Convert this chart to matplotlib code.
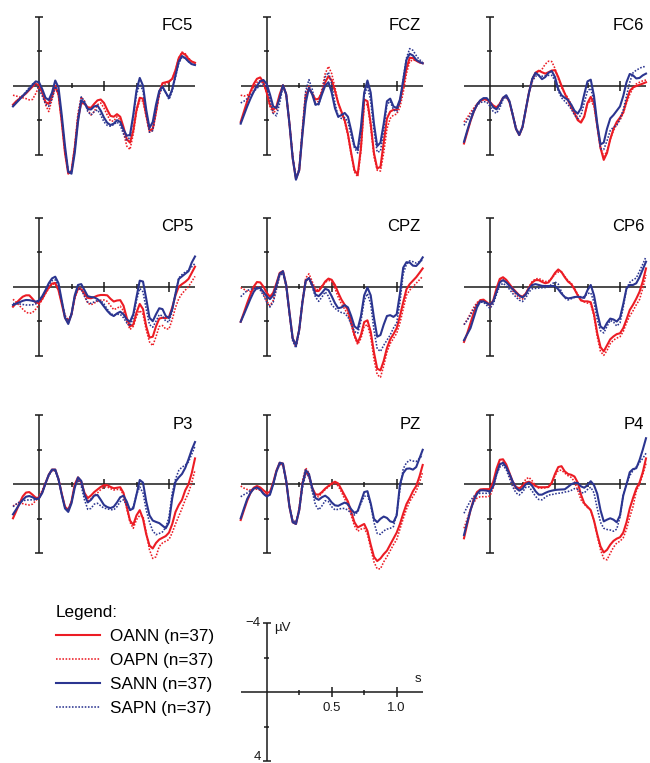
import numpy as np
import matplotlib
matplotlib.use("Agg")
import matplotlib.pyplot as plt
from matplotlib.lines import Line2D

plt.rcParams["font.family"] = ["Liberation Sans", "DejaVu Sans"]

# =============================================================================
# DATA -- grand-average ERPs in µV, one value every 25 ms from -0.2 to 1.2 s
# (negative is plotted up)
# =============================================================================
TIME = np.round(np.arange(57) * 0.025 - 0.2, 3)

FC5_OANN = [1.1, 0.9, 0.75, 0.6, 0.45, 0.25, 0.05, -0.1, -0.05, 0.4, 0.95, 1.05, 0.6, 0.0, 0.5, 2.1, 3.9, 5.1, 4.95, 3.6, 1.9, 1.0, 1.05, 1.25, 1.28, 1.05, 0.85, 0.8, 1.0, 1.4, 1.75, 1.8, 1.65, 1.8, 2.4, 3.1, 3.3, 2.6, 1.4, 0.7, 0.75, 1.7, 2.6, 2.5, 1.5, 0.4, -0.15, -0.2, -0.25, -0.4, -0.9, -1.6, -1.9, -1.8, -1.55, -1.4, -1.33]
FC5_OAPN = [0.55, 0.6, 0.65, 0.7, 0.75, 0.82, 0.8, 0.45, 0.05, 0.35, 1.1, 1.5, 0.8, 0.12, 0.55, 2.1, 3.9, 5.05, 4.95, 3.5, 1.6, 0.65, 0.9, 1.4, 1.7, 1.5, 1.1, 1.0, 1.3, 1.7, 2.05, 2.05, 1.8, 2.0, 2.7, 3.5, 3.7, 2.8, 1.5, 0.85, 0.9, 1.8, 2.7, 2.6, 1.6, 0.5, -0.1, -0.1, -0.2, -0.4, -0.9, -1.6, -1.95, -1.85, -1.6, -1.4, -1.3]
FC5_SANN = [1.2, 1.0, 0.8, 0.6, 0.4, 0.2, -0.05, -0.25, -0.2, 0.2, 0.7, 0.83, 0.4, -0.3, 0.1, 1.7, 3.5, 5.0, 5.1, 3.9, 2.1, 0.85, 1.0, 1.35, 1.38, 1.2, 1.15, 1.45, 1.85, 2.15, 2.28, 2.2, 2.0, 2.1, 2.55, 2.9, 2.85, 1.7, 0.27, -0.45, 0.0, 1.4, 2.45, 2.1, 1.1, 0.3, 0.05, 0.4, 0.7, 0.2, -0.6, -1.4, -1.72, -1.6, -1.4, -1.25, -1.2]
FC5_SAPN = [1.15, 0.95, 0.75, 0.55, 0.35, 0.1, -0.1, -0.05, 0.2, 0.6, 1.05, 1.2, 0.75, 0.05, 0.4, 1.9, 3.7, 4.95, 5.0, 3.7, 1.8, 0.65, 0.9, 1.5, 1.7, 1.5, 1.4, 1.7, 2.1, 2.3, 2.35, 2.25, 2.1, 2.3, 2.8, 3.15, 3.0, 1.8, 0.5, -0.1, 0.3, 1.6, 2.7, 2.6, 1.4, 0.5, 0.1, 0.4, 0.8, 0.3, -0.5, -1.3, -1.65, -1.6, -1.4, -1.25, -1.2]

FCZ_OANN = [2.1, 1.5, 0.9, 0.35, -0.1, -0.4, -0.48, -0.2, 0.4, 1.1, 1.4, 1.2, 0.5, -0.03, 0.5, 2.2, 4.2, 5.4, 4.9, 2.7, 0.6, 0.2, 0.45, 0.8, 0.75, 0.4, -0.2, -0.55, -0.3, 0.3, 1.0, 1.5, 2.0, 2.8, 3.9, 4.9, 5.15, 3.6, 0.8, 0.9, 2.2, 3.9, 4.8, 4.7, 3.3, 1.9, 1.5, 1.4, 1.4, 0.9, 0.0, -1.0, -1.62, -1.6, -1.45, -1.35, -1.3]
FCZ_OAPN = [0.55, 0.6, 0.55, 0.4, 0.1, -0.2, -0.3, -0.1, 0.4, 1.2, 1.6, 1.4, 0.6, 0.0, 0.5, 2.2, 4.1, 5.35, 4.9, 2.6, 0.4, 0.0, 0.5, 1.0, 0.9, 0.2, -0.7, -1.12, -0.7, 0.1, 1.0, 1.6, 2.1, 2.9, 4.0, 5.0, 5.28, 3.8, 1.1, 1.1, 2.4, 4.1, 4.9, 4.95, 3.9, 2.5, 1.9, 1.7, 1.65, 1.25, 0.4, -0.7, -1.4, -1.5, -1.45, -1.35, -1.3]
FCZ_SANN = [2.2, 1.7, 1.2, 0.75, 0.35, 0.0, -0.25, -0.33, -0.1, 0.5, 1.2, 1.3, 0.7, -0.03, 0.5, 2.2, 4.2, 5.45, 4.9, 2.8, 1.0, 0.12, 0.5, 1.1, 1.05, 0.5, 0.0, -0.2, 0.4, 1.3, 1.8, 1.7, 1.58, 1.8, 2.6, 3.5, 3.7, 2.4, 0.4, -0.3, 0.4, 2.2, 3.5, 3.3, 2.2, 0.9, 0.75, 1.2, 1.3, 0.8, -0.3, -1.5, -1.85, -1.75, -1.5, -1.38, -1.3]
FCZ_SAPN = [1.0, 0.9, 0.75, 0.55, 0.35, 0.15, 0.0, -0.1, 0.1, 0.8, 1.6, 1.75, 1.0, 0.05, 0.5, 2.2, 4.1, 5.35, 4.8, 2.5, 0.3, -0.35, 0.2, 1.1, 1.1, 0.4, -0.5, -0.78, -0.1, 1.0, 1.8, 1.9, 1.85, 2.1, 2.9, 3.6, 3.9, 2.7, 0.6, 0.0, 0.9, 2.6, 3.85, 3.8, 2.6, 1.1, 0.9, 1.4, 1.5, 1.0, -0.4, -1.6, -2.15, -2.05, -1.75, -1.5, -1.4]

FC6_OANN = [3.35, 2.7, 2.05, 1.5, 1.1, 0.88, 0.78, 0.8, 0.95, 1.15, 1.26, 1.05, 0.7, 0.6, 0.95, 1.7, 2.5, 2.86, 2.4, 1.4, 0.4, -0.35, -0.75, -0.87, -0.78, -0.7, -0.78, -0.88, -0.9, -0.5, 0.0, 0.45, 0.85, 1.25, 1.6, 2.0, 2.14, 1.8, 1.0, 0.65, 1.0, 2.3, 3.6, 4.3, 3.9, 3.1, 2.5, 2.1, 1.85, 1.55, 0.9, 0.3, 0.1, 0.02, -0.05, -0.12, -0.2]
FC6_OAPN = [2.1, 1.85, 1.55, 1.3, 1.05, 0.9, 0.82, 0.83, 1.0, 1.2, 1.3, 1.05, 0.7, 0.6, 0.95, 1.7, 2.5, 2.86, 2.4, 1.4, 0.35, -0.4, -0.75, -0.8, -0.95, -1.25, -1.42, -1.4, -1.0, -0.4, 0.1, 0.45, 0.7, 1.1, 1.5, 1.9, 2.1, 1.75, 1.05, 0.85, 1.2, 2.4, 3.6, 4.1, 3.8, 3.1, 2.6, 2.25, 2.0, 1.6, 1.0, 0.5, 0.15, -0.1, -0.2, -0.28, -0.33]
FC6_SANN = [3.25, 2.6, 2.0, 1.5, 1.1, 0.85, 0.72, 0.72, 0.95, 1.25, 1.37, 1.1, 0.7, 0.55, 0.9, 1.7, 2.5, 2.86, 2.4, 1.4, 0.4, -0.4, -0.75, -0.6, -0.38, -0.5, -0.75, -0.85, -0.5, 0.2, 0.55, 0.7, 0.83, 1.1, 1.45, 1.62, 1.3, 0.5, -0.25, -0.35, 0.6, 2.2, 3.4, 3.3, 2.5, 1.9, 1.7, 1.45, 1.2, 0.6, -0.2, -0.68, -0.6, -0.42, -0.45, -0.6, -0.7]
FC6_SAPN = [2.3, 2.0, 1.7, 1.4, 1.15, 0.98, 0.92, 0.95, 1.2, 1.5, 1.6, 1.3, 0.8, 0.65, 0.95, 1.65, 2.45, 2.8, 2.35, 1.35, 0.4, -0.25, -0.55, -0.6, -0.55, -0.58, -0.6, -0.6, -0.3, 0.3, 0.7, 0.9, 1.1, 1.35, 1.7, 1.9, 1.7, 1.0, 0.3, 0.15, 0.9, 2.4, 3.65, 3.7, 3.2, 2.6, 2.4, 2.3, 1.9, 1.4, 0.6, -0.2, -0.75, -0.9, -1.0, -1.1, -1.1]

CP5_OANN = [1.16, 0.95, 0.75, 0.58, 0.5, 0.5, 0.7, 0.92, 0.95, 0.7, 0.35, 0.05, -0.18, -0.22, 0.2, 1.0, 1.8, 2.09, 1.6, 0.6, 0.12, 0.15, 0.4, 0.65, 0.67, 0.6, 0.52, 0.48, 0.48, 0.5, 0.7, 0.86, 0.8, 0.78, 1.1, 1.8, 2.3, 2.2, 1.5, 1.0, 1.3, 2.3, 2.95, 2.9, 2.3, 1.85, 1.8, 1.82, 1.75, 1.2, 0.5, 0.0, -0.15, -0.28, -0.45, -0.8, -1.16]
CP5_OAPN = [0.73, 0.9, 1.1, 1.3, 1.48, 1.55, 1.5, 1.3, 1.05, 0.75, 0.4, 0.1, -0.15, -0.15, 0.2, 0.9, 1.65, 1.95, 1.6, 0.7, 0.05, 0.1, 0.55, 0.95, 1.05, 0.95, 0.85, 0.78, 0.77, 0.85, 1.1, 1.33, 1.25, 1.13, 1.4, 2.0, 2.48, 2.3, 1.7, 1.38, 1.6, 2.5, 3.2, 3.42, 2.9, 2.3, 2.25, 2.45, 2.45, 1.9, 1.2, 0.7, 0.4, 0.2, 0.0, -0.3, -0.6]
CP5_SANN = [1.06, 0.98, 0.9, 0.82, 0.77, 0.78, 0.82, 0.87, 0.8, 0.55, 0.2, -0.2, -0.48, -0.58, -0.2, 0.8, 1.8, 2.16, 1.6, 0.5, -0.1, -0.15, 0.2, 0.55, 0.6, 0.62, 0.72, 0.9, 1.15, 1.4, 1.6, 1.7, 1.55, 1.45, 1.6, 1.9, 2.03, 1.6, 0.6, -0.35, -0.3, 0.7, 1.8, 2.0, 1.6, 1.25, 1.3, 1.7, 1.82, 1.3, 0.4, -0.45, -0.6, -0.75, -0.9, -1.4, -1.75]
CP5_SAPN = [0.97, 0.98, 1.0, 1.03, 1.06, 1.06, 1.05, 1.0, 0.85, 0.6, 0.25, -0.1, -0.35, -0.4, -0.05, 0.85, 1.7, 2.0, 1.55, 0.6, 0.1, 0.15, 0.55, 0.9, 0.97, 0.88, 0.8, 0.8, 1.0, 1.3, 1.55, 1.65, 1.6, 1.6, 1.8, 2.1, 2.28, 1.8, 0.8, 0.1, 0.3, 1.3, 2.2, 2.35, 2.0, 1.62, 1.7, 2.0, 2.05, 1.4, 0.4, -0.5, -0.7, -0.85, -0.95, -1.15, -1.35]

CPZ_OANN = [2.03, 1.5, 0.95, 0.45, 0.0, -0.27, -0.25, 0.0, 0.35, 0.58, 0.35, -0.2, -0.8, -0.9, -0.1, 1.5, 3.0, 3.4, 2.5, 0.9, -0.35, -0.5, -0.1, 0.25, 0.25, 0.0, -0.3, -0.47, -0.4, -0.1, 0.35, 0.75, 1.05, 1.35, 2.0, 2.8, 3.25, 2.8, 2.05, 1.95, 2.6, 3.8, 4.75, 4.85, 4.3, 3.55, 3.05, 2.75, 2.4, 1.7, 0.9, 0.15, -0.15, -0.35, -0.55, -0.8, -1.06]
CPZ_OAPN = [0.05, 0.15, 0.25, 0.28, 0.15, 0.0, 0.05, 0.4, 0.85, 1.1, 0.8, 0.05, -0.7, -0.85, -0.05, 1.55, 3.05, 3.5, 2.5, 0.8, -0.5, -0.75, -0.3, 0.15, 0.18, -0.05, -0.25, -0.37, -0.3, 0.1, 0.6, 1.0, 1.3, 1.6, 2.2, 2.9, 3.35, 3.0, 2.3, 2.2, 2.9, 4.2, 5.1, 5.25, 4.6, 3.8, 3.3, 3.0, 2.7, 2.1, 1.3, 0.5, 0.2, 0.0, -0.2, -0.4, -0.6]
CPZ_SANN = [2.03, 1.6, 1.15, 0.7, 0.3, 0.06, 0.08, 0.3, 0.55, 0.72, 0.5, -0.1, -0.75, -0.9, -0.1, 1.5, 3.0, 3.4, 2.5, 0.9, -0.35, -0.5, -0.1, 0.45, 0.55, 0.35, 0.12, 0.2, 0.55, 0.95, 1.25, 1.2, 1.07, 1.2, 1.7, 2.3, 2.45, 1.7, 0.5, 0.05, 0.5, 1.8, 2.9, 2.8, 2.2, 1.7, 1.65, 1.75, 1.6, 0.4, -1.1, -1.42, -1.4, -1.22, -1.2, -1.4, -1.7]
CPZ_SAPN = [0.58, 0.4, 0.22, 0.15, 0.1, 0.1, 0.2, 0.5, 0.9, 1.18, 0.9, 0.15, -0.65, -0.78, 0.0, 1.6, 3.15, 3.55, 2.55, 0.85, -0.3, -0.5, 0.0, 0.6, 0.85, 0.6, 0.3, 0.55, 1.05, 1.25, 1.4, 1.5, 1.55, 1.75, 2.2, 2.6, 2.7, 2.0, 0.8, 0.4, 1.0, 2.5, 3.6, 3.75, 3.4, 3.1, 2.8, 2.4, 2.1, 0.9, -0.75, -1.3, -1.5, -1.45, -1.37, -1.45, -1.55]

CP6_OANN = [3.2, 2.7, 2.1, 1.5, 1.05, 0.78, 0.75, 0.9, 1.06, 0.8, 0.1, -0.45, -0.55, -0.4, -0.15, 0.1, 0.3, 0.5, 0.58, 0.4, 0.05, -0.25, -0.38, -0.38, -0.28, -0.2, -0.25, -0.5, -0.8, -1.0, -0.85, -0.55, -0.3, -0.15, 0.15, 0.5, 0.8, 0.85, 0.85, 0.9, 1.6, 2.7, 3.5, 3.75, 3.4, 3.05, 2.88, 2.75, 2.7, 2.4, 1.9, 1.35, 1.05, 0.7, 0.3, -0.3, -1.06]
CP6_OAPN = [2.2, 1.9, 1.55, 1.2, 0.92, 0.8, 0.8, 0.95, 1.16, 0.9, 0.2, -0.35, -0.47, -0.35, -0.05, 0.25, 0.45, 0.65, 0.72, 0.45, 0.0, -0.3, -0.45, -0.48, -0.38, -0.3, -0.33, -0.5, -0.72, -0.85, -0.85, -0.6, -0.35, -0.2, 0.1, 0.45, 0.75, 0.88, 0.95, 1.0, 1.7, 2.9, 3.75, 3.98, 3.7, 3.3, 3.1, 2.98, 2.9, 2.6, 2.1, 1.7, 1.4, 1.05, 0.75, 0.1, -0.68]
CP6_SANN = [3.1, 2.75, 2.4, 1.8, 1.2, 0.85, 0.85, 0.95, 1.06, 0.85, 0.3, -0.25, -0.38, -0.25, -0.05, 0.15, 0.35, 0.52, 0.62, 0.45, 0.1, -0.1, -0.15, -0.1, -0.05, -0.04, -0.04, -0.04, -0.04, 0.15, 0.4, 0.6, 0.68, 0.65, 0.6, 0.58, 0.62, 0.65, 0.2, -0.1, 0.5, 1.5, 2.3, 2.45, 2.1, 1.85, 1.9, 2.02, 1.8, 1.0, 0.1, -0.1, -0.1, -0.2, -0.55, -1.0, -1.45]
CP6_SAPN = [2.2, 1.95, 1.65, 1.3, 1.02, 0.9, 0.9, 1.08, 1.26, 1.0, 0.45, -0.05, -0.2, -0.05, 0.15, 0.4, 0.6, 0.78, 0.86, 0.65, 0.3, 0.12, 0.1, 0.08, 0.06, 0.05, 0.02, -0.15, -0.28, -0.15, 0.3, 0.65, 0.77, 0.7, 0.62, 0.58, 0.58, 0.58, 0.4, 0.35, 0.9, 1.9, 2.55, 2.68, 2.3, 1.95, 2.05, 2.28, 2.1, 1.2, 0.1, -0.25, -0.4, -0.5, -0.9, -1.3, -1.74]

P3_OANN = [1.97, 1.55, 1.1, 0.7, 0.48, 0.45, 0.6, 0.78, 0.78, 0.45, -0.05, -0.55, -0.85, -0.85, -0.3, 0.55, 1.3, 1.49, 1.0, 0.0, -0.4, -0.15, 0.5, 0.8, 0.65, 0.45, 0.3, 0.15, 0.05, 0.05, 0.15, 0.23, 0.2, 0.17, 0.5, 1.3, 2.1, 2.35, 1.8, 1.5, 2.0, 2.9, 3.55, 3.72, 3.4, 3.2, 3.1, 3.0, 2.8, 2.3, 1.6, 1.2, 0.9, 0.35, 0.0, -0.65, -1.5]
P3_OAPN = [1.26, 1.15, 1.1, 1.12, 1.17, 1.2, 1.15, 0.95, 0.75, 0.35, -0.1, -0.55, -0.8, -0.8, -0.3, 0.55, 1.3, 1.49, 1.0, 0.1, -0.25, 0.0, 0.6, 0.95, 0.85, 0.65, 0.5, 0.3, 0.15, 0.15, 0.25, 0.33, 0.3, 0.3, 0.6, 1.4, 2.2, 2.55, 2.05, 1.8, 1.85, 2.8, 3.8, 4.3, 4.2, 3.6, 3.4, 3.3, 3.2, 2.8, 2.3, 1.85, 1.4, 0.9, 0.5, -0.1, -0.83]
P3_SANN = [1.74, 1.45, 1.15, 0.9, 0.72, 0.68, 0.75, 0.85, 0.82, 0.5, -0.05, -0.55, -0.85, -0.85, -0.3, 0.6, 1.4, 1.6, 1.1, 0.2, -0.4, -0.2, 0.6, 1.05, 0.9, 0.65, 0.62, 0.9, 1.2, 1.32, 1.38, 1.3, 1.05, 0.75, 0.66, 1.0, 1.5, 1.4, 0.6, -0.25, -0.1, 1.0, 1.8, 2.1, 2.18, 2.25, 2.4, 2.55, 2.2, 0.8, -0.15, -0.4, -0.6, -0.95, -1.45, -2.0, -2.45]
P3_SAPN = [1.3, 1.15, 1.02, 0.95, 0.92, 0.9, 0.9, 0.9, 0.8, 0.45, -0.05, -0.5, -0.78, -0.78, -0.25, 0.6, 1.35, 1.48, 1.0, 0.1, -0.28, 0.1, 0.9, 1.45, 1.4, 1.15, 1.1, 1.25, 1.38, 1.42, 1.47, 1.48, 1.3, 1.0, 0.9, 1.2, 1.48, 1.3, 0.6, 0.15, 0.5, 1.5, 2.2, 2.7, 2.92, 2.85, 2.76, 2.5, 1.9, 0.5, -0.3, -0.8, -1.0, -1.1, -1.3, -1.75, -2.2]

PZ_OANN = [2.07, 1.5, 0.95, 0.5, 0.2, 0.1, 0.18, 0.35, 0.5, 0.45, -0.1, -0.8, -1.25, -1.2, -0.2, 1.3, 2.2, 2.3, 1.5, 0.0, -0.72, -0.5, 0.2, 0.58, 0.6, 0.45, 0.25, 0.1, -0.05, -0.15, -0.05, 0.3, 0.65, 1.0, 1.6, 2.2, 2.5, 2.4, 2.3, 2.7, 3.5, 4.2, 4.45, 4.3, 4.05, 3.85, 3.5, 3.15, 2.8, 2.3, 1.7, 1.15, 0.8, 0.4, 0.1, -0.45, -1.12]
PZ_OAPN = [0.1, 0.22, 0.3, 0.33, 0.3, 0.28, 0.35, 0.5, 0.62, 0.5, -0.05, -0.75, -1.18, -1.1, -0.15, 1.25, 2.1, 2.2, 1.35, -0.2, -0.95, -0.65, 0.3, 0.7, 0.72, 0.5, 0.3, 0.15, 0.0, -0.05, 0.1, 0.45, 0.85, 1.2, 1.8, 2.4, 2.72, 2.6, 2.55, 2.9, 3.7, 4.5, 4.9, 4.9, 4.5, 4.2, 3.85, 3.5, 3.2, 2.6, 2.0, 1.45, 1.0, 0.7, 0.4, -0.1, -0.73]
PZ_SANN = [1.97, 1.4, 0.85, 0.5, 0.25, 0.18, 0.3, 0.55, 0.7, 0.6, 0.0, -0.75, -1.25, -1.2, -0.2, 1.3, 2.2, 2.3, 1.5, 0.0, -0.82, -0.6, 0.2, 0.8, 0.9, 0.75, 0.66, 0.8, 1.05, 1.22, 1.25, 1.15, 1.06, 1.15, 1.45, 1.66, 1.55, 1.0, 0.45, 0.4, 1.1, 2.0, 2.2, 2.0, 1.87, 1.95, 2.15, 2.2, 1.8, 0.0, -0.65, -0.9, -0.92, -0.85, -1.0, -1.5, -2.0]
PZ_SAPN = [0.72, 0.6, 0.5, 0.35, 0.25, 0.22, 0.3, 0.55, 0.72, 0.6, 0.0, -0.7, -1.15, -1.1, -0.15, 1.25, 2.1, 2.2, 1.5, 0.2, -0.6, -0.45, 0.4, 1.2, 1.48, 1.25, 0.95, 1.0, 1.3, 1.48, 1.45, 1.4, 1.4, 1.5, 1.68, 1.78, 1.6, 1.1, 0.7, 0.65, 1.2, 2.2, 2.85, 2.9, 2.7, 2.6, 2.55, 2.45, 1.7, 0.3, -0.9, -1.25, -1.4, -1.35, -1.32, -1.5, -1.7]

P4_OANN = [3.13, 2.3, 1.5, 0.85, 0.45, 0.3, 0.28, 0.28, 0.28, -0.15, -0.9, -1.42, -1.45, -1.15, -0.65, -0.15, 0.15, 0.23, 0.1, -0.1, -0.15, -0.05, 0.1, 0.17, 0.17, 0.17, 0.15, -0.1, -0.6, -1.0, -1.05, -0.75, -0.6, -0.55, -0.45, -0.1, 0.6, 1.1, 1.3, 1.5, 2.1, 2.9, 3.6, 3.95, 3.8, 3.5, 3.28, 3.15, 3.07, 2.8, 2.2, 1.4, 0.8, 0.25, -0.1, -0.7, -1.5]
P4_OAPN = [2.55, 2.0, 1.45, 1.05, 0.8, 0.72, 0.72, 0.72, 0.68, 0.2, -0.6, -1.2, -1.28, -1.0, -0.5, 0.0, 0.3, 0.3, 0.05, -0.3, -0.4, -0.2, 0.1, 0.22, 0.22, 0.2, 0.17, -0.05, -0.5, -0.8, -0.82, -0.65, -0.5, -0.4, -0.15, 0.35, 0.9, 1.15, 1.35, 1.5, 2.1, 3.0, 3.8, 4.3, 4.38, 4.0, 3.65, 3.4, 3.3, 3.1, 2.6, 1.9, 1.3, 0.4, 0.0, -0.55, -1.2]
P4_SANN = [2.94, 2.2, 1.5, 0.95, 0.55, 0.35, 0.35, 0.37, 0.42, 0.1, -0.6, -1.15, -1.25, -1.0, -0.6, -0.15, 0.2, 0.37, 0.25, 0.0, -0.1, 0.1, 0.4, 0.6, 0.6, 0.5, 0.42, 0.37, 0.33, 0.31, 0.3, 0.29, 0.15, 0.0, -0.08, -0.08, 0.12, 0.2, 0.05, -0.18, 0.05, 0.55, 1.5, 2.15, 2.05, 1.97, 2.05, 2.2, 1.8, 0.65, 0.0, -0.7, -0.88, -0.93, -1.4, -2.0, -2.67]
P4_SAPN = [1.68, 1.3, 0.95, 0.7, 0.57, 0.52, 0.52, 0.52, 0.5, 0.1, -0.55, -1.0, -1.1, -0.85, -0.35, 0.15, 0.5, 0.62, 0.45, 0.18, 0.15, 0.4, 0.7, 0.88, 0.9, 0.75, 0.62, 0.6, 0.55, 0.52, 0.5, 0.45, 0.42, 0.35, 0.25, 0.3, 0.48, 0.5, 0.3, 0.17, 0.5, 1.4, 2.2, 2.55, 2.62, 2.65, 2.72, 2.6, 1.9, 0.6, 0.0, -0.5, -0.8, -1.0, -1.25, -1.5, -1.8]

ELECTRODES = ["FC5", "FCZ", "FC6", "CP5", "CPZ", "CP6", "P3", "PZ", "P4"]
WAVES = {
    "FC5": [FC5_OANN, FC5_OAPN, FC5_SANN, FC5_SAPN],
    "FCZ": [FCZ_OANN, FCZ_OAPN, FCZ_SANN, FCZ_SAPN],
    "FC6": [FC6_OANN, FC6_OAPN, FC6_SANN, FC6_SAPN],
    "CP5": [CP5_OANN, CP5_OAPN, CP5_SANN, CP5_SAPN],
    "CPZ": [CPZ_OANN, CPZ_OAPN, CPZ_SANN, CPZ_SAPN],
    "CP6": [CP6_OANN, CP6_OAPN, CP6_SANN, CP6_SAPN],
    "P3":  [P3_OANN, P3_OAPN, P3_SANN, P3_SAPN],
    "PZ":  [PZ_OANN, PZ_OAPN, PZ_SANN, PZ_SAPN],
    "P4":  [P4_OANN, P4_OAPN, P4_SANN, P4_SAPN],
}
CONDITIONS = ["OANN", "OAPN", "SANN", "SAPN"]
N_SUBJ = [37, 37, 37, 37]

# =============================================================================
# STYLE / LAYOUT
# =============================================================================
RED = "#ec1c24"
BLUE = "#2b3590"
AXC = "#1a1a1a"
DOT = (0, (1.0, 1.0))
STYLES = [(RED, "-", 1.5), (RED, DOT, 1.15), (BLUE, "-", 1.5), (BLUE, DOT, 1.15)]
DRAW_ORDER = [1, 3, 0, 2]

W, H = 650, 763                  # figure size in px
PX_S, PX_UV = 130.0, 17.25       # px per second / per µV
T0, T1 = -0.2, 1.2
V_TOP, V_BOT = -6.0, 6.5
COL_X = [39.0, 266.7, 490.0]     # px position of t = 0
ROW_Y = [85.7, 286.7, 484.3]     # px position of 0 µV

fig = plt.figure(figsize=(W / 100, H / 100), dpi=100)


def panel_axes(x0, y0):
    left = x0 + T0 * PX_S
    top = y0 + V_TOP * PX_UV
    w = (T1 - T0) * PX_S
    h = (V_BOT - V_TOP) * PX_UV
    ax = fig.add_axes([left / W, 1 - (top + h) / H, w / W, h / H])
    ax.set_xlim(T0, T1)
    ax.set_ylim(V_BOT, V_TOP)
    ax.axis("off")
    return ax


def draw_frame(ax):
    kw = dict(color=AXC, lw=1.1, solid_capstyle="butt", clip_on=False, zorder=1)
    ax.plot([T0, T1], [0, 0], **kw)
    ax.plot([0, 0], [-4, 4], **kw)
    for v, half in ((-4, 4.0), (-2, 2.5), (2, 2.5), (4, 4.0)):
        ax.plot([-half / PX_S, half / PX_S], [v, v], **kw)
    for t, half in ((0.25, 2.5), (0.5, 5.0), (0.75, 2.5), (1.0, 5.0)):
        ax.plot([t, t], [-half / PX_UV, half / PX_UV], **kw)


# -----------------------------------------------------------------------------
# 3 x 3 electrode grid
# -----------------------------------------------------------------------------
for i, name in enumerate(ELECTRODES):
    ax = panel_axes(COL_X[i % 3], ROW_Y[i // 3])
    draw_frame(ax)
    for j in DRAW_ORDER:
        color, ls, lw = STYLES[j]
        ax.plot(TIME, WAVES[name][j], color=color, linestyle=ls, lw=lw,
                clip_on=False, zorder=2 + j)
    ax.text(1.185, -3.23, name, ha="right", va="baseline", fontsize=12,
            color="black")

# -----------------------------------------------------------------------------
# scale bar
# -----------------------------------------------------------------------------
ax = panel_axes(266.7, 692.3)
draw_frame(ax)
lab = dict(fontsize=9.5, color=AXC)
ax.text(-0.045, -4, "\u22124", ha="right", va="center", **lab)
ax.text(-0.045, 3.75, "4", ha="right", va="center", **lab)
ax.text(0.06, -3.7, "\u00b5V", ha="left", va="center", **lab)
ax.text(1.165, -0.75, "s", ha="center", va="center", **lab)
ax.text(0.5, 0.55, "0.5", ha="center", va="top", **lab)
ax.text(1.0, 0.55, "1.0", ha="center", va="top", **lab)

# -----------------------------------------------------------------------------
# legend
# -----------------------------------------------------------------------------
handles = [Line2D([], [], color=c, linestyle=ls, lw=lw) for c, ls, lw in STYLES]
labels = [f"{c} (n={n})" for c, n in zip(CONDITIONS, N_SUBJ)]
fig.legend(handles, labels, title="Legend:", loc="upper left",
           bbox_to_anchor=(54 / W, 1 - 603 / H), frameon=False,
           fontsize=12.3, title_fontsize=12.3, alignment="left",
           handlelength=2.6, handletextpad=0.55, labelspacing=0.53,
           borderpad=0.1, borderaxespad=0)

fig.savefig("out.png", dpi=100)
